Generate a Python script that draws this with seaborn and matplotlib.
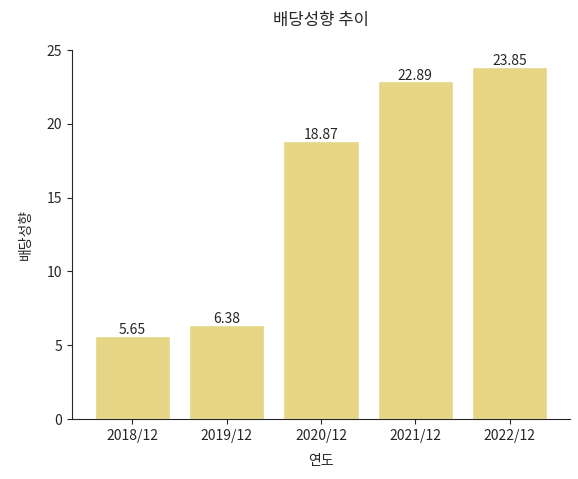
import matplotlib
matplotlib.use("Agg")
import matplotlib.pyplot as plt
import seaborn as sns
import pandas as pd

years = ["2018/12", "2019/12", "2020/12", "2021/12", "2022/12"]
payout = [5.65, 6.38, 18.87, 22.89, 23.85]

sns.set_style("ticks")
plt.rcParams['font.family'] = ['Noto Sans CJK KR', 'DejaVu Sans']

fig = plt.figure(figsize=(5.78, 4.79), dpi=100)
ax = fig.add_axes([0.1246, 0.125, 0.8614, 0.7706])
df = pd.DataFrame({"연도": years, "배당성향": payout})
sns.barplot(data=df, x="연도", y="배당성향", color="#E5D585", saturation=1, ax=ax, width=0.8)
for c in ax.containers:
    ax.bar_label(c, labels=[f"{v:.2f}" for v in payout], fontsize=10, padding=-1)
ax.set_ylim(0, 25)
ax.set_xlim(-0.64, 4.64)
ax.set_title("배당성향 추이", fontsize=12, pad=18)
ax.set_xlabel("연도", fontsize=10, labelpad=8)
ax.set_ylabel("배당성향", fontsize=10, labelpad=10)
ax.tick_params(labelsize=10)
sns.despine(ax=ax)
fig.savefig("out.png", dpi=100)
